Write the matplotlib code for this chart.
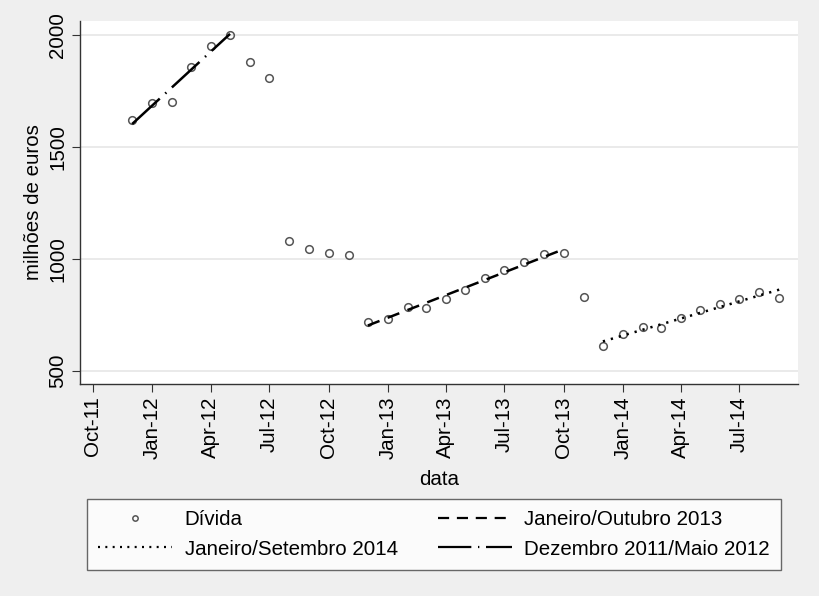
import matplotlib
matplotlib.use("Agg")
import matplotlib.pyplot as plt
import matplotlib.dates as mdates
import numpy as np
import datetime as dt

plt.rcParams['font.family'] = ['Liberation Sans', 'DejaVu Sans']

# monthly debt, Dec 2011 .. Sep 2014 (millions of euros)
months = [dt.date(2011 + (11 + i) // 12, (11 + i) % 12 + 1, 1) for i in range(34)]
divida = [1621, 1697, 1700, 1857, 1951, 2000, 1879, 1808, 1080, 1045, 1027, 1018,
          719, 732, 786, 781, 821, 862, 915, 951, 987, 1022, 1027, 830,
          612, 665, 696, 692, 737, 772, 799, 821, 853, 826]

# index ranges for each linear fit
fit_2011_12 = (0, 6)     # Dez 2011 - Mai 2012
fit_2013 = (12, 23)      # Jan - Out 2013
fit_2014 = (24, 34)      # Jan - Set 2014

xnum = mdates.date2num(months)
y = np.array(divida, dtype=float)

def fit_line(rng):
    a, b = rng
    f = np.poly1d(np.polyfit(xnum[a:b], y[a:b], 1))
    return xnum[a:b], f(xnum[a:b])

FS = 14.8

fig = plt.figure(figsize=(8.2, 5.96), dpi=100, facecolor='#efefef')
ax = fig.add_axes([80 / 820, 1 - 384 / 596, 718 / 820, 363 / 596])
ax.set_facecolor('white')

pts, = ax.plot(xnum, y, 'o', ms=5.5, mfc='none', mec='#555555', mew=1.1, label='Dívida')
x1, y1 = fit_line(fit_2013)
l13, = ax.plot(x1, y1, color='black', lw=1.8, dashes=(5, 3.5), label='Janeiro/Outubro 2013')
x2, y2 = fit_line(fit_2014)
l14, = ax.plot(x2, y2, color='black', lw=1.8, dashes=(0.9, 2.4), label='Janeiro/Setembro 2014')
x3, y3 = fit_line(fit_2011_12)
l11, = ax.plot(x3, y3, color='black', lw=1.8, dashes=(15, 3, 0.6, 3), label='Dezembro 2011/Maio 2012')

ax.set_ylim(442, 2062)
ax.set_yticks([500, 1000, 1500, 2000])
ax.grid(axis='y', color='#e8e8e8', lw=1.3)
ax.set_axisbelow(True)

ax.set_xlim(mdates.date2num(dt.date(2011, 9, 11)), mdates.date2num(dt.date(2014, 9, 30)))
ticks = [dt.date(2011 + (9 + 3 * i) // 12, (9 + 3 * i) % 12 + 1, 1) for i in range(12)]
ax.set_xticks(mdates.date2num(ticks))
ax.xaxis.set_major_formatter(mdates.DateFormatter('%b-%y'))

for s in ['top', 'right']:
    ax.spines[s].set_visible(False)
for s in ['left', 'bottom']:
    ax.spines[s].set_color('#333333')
    ax.spines[s].set_linewidth(1.0)
ax.tick_params(axis='both', direction='out', length=6, color='#333333', labelsize=FS, pad=3)
plt.setp(ax.get_yticklabels(), rotation=90, va='center')
plt.setp(ax.get_xticklabels(), rotation=90)

ax.set_ylabel('milhões de euros', fontsize=FS, labelpad=4)
ax.set_xlabel('data', fontsize=FS, labelpad=8)

leg = fig.legend([pts, l14, l13, l11],
                 ['Dívida', 'Janeiro/Setembro 2014', 'Janeiro/Outubro 2013', 'Dezembro 2011/Maio 2012'],
                 ncol=2, loc='upper left', bbox_to_anchor=(87 / 820, 1 - 499 / 596),
                 fontsize=FS, frameon=True, fancybox=False, edgecolor='#444444',
                 handlelength=3.6, handletextpad=0.6, columnspacing=1.95,
                 borderpad=0.55, labelspacing=0.5, markerscale=0.7, borderaxespad=0)
leg.get_frame().set_linewidth(1.0)
for h in leg.legend_handles[1:]:
    h.set_linewidth(1.6)

fig.savefig('out.png', dpi=100, facecolor=fig.get_facecolor())
